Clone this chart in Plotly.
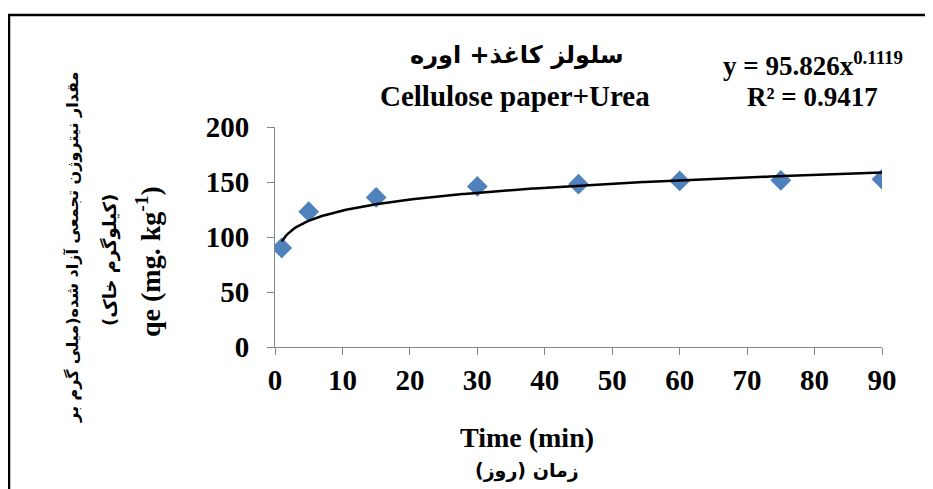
import numpy as np
import plotly.graph_objects as go

# ---- data ----
time_days = [1, 5, 15, 30, 45, 60, 75, 90]
qe_values = [90, 123, 136, 146, 148, 151, 151.5, 152.5]
fit_a = 95.826
fit_b = 0.1119
fit_r2 = 0.9417
x_ticks = [0, 10, 20, 30, 40, 50, 60, 70, 80, 90]
y_ticks = [0, 50, 100, 150, 200]

# ---- layout helpers (reference pixel -> paper) ----
OFF = 8  # page body margin
FW, FH = 933 - OFF, 489 - OFF
L, R, T, B = 275 - OFF, 51, 127 - OFF, 142
W = FW - L - R
H = FH - T - B


def px(x):
    return (x - OFF - L) / W


def py(y):
    return (FH - B - (y - OFF)) / H


fit_x = np.linspace(min(time_days), max(time_days), 300)
fit_y = fit_a * fit_x ** fit_b

SERIF = "Liberation Serif, DejaVu Sans"
AR = "DejaVu Sans"

fig = go.Figure()
fig.add_trace(go.Scatter(
    x=time_days, y=qe_values, mode="markers",
    marker=dict(symbol="diamond", size=16, color="#4F81BD"),
    showlegend=False, hoverinfo="x+y"))
fig.add_trace(go.Scatter(
    x=fit_x, y=fit_y, mode="lines",
    line=dict(color="black", width=2.5),
    showlegend=False, hoverinfo="skip"))

axis_common = dict(
    showgrid=False, zeroline=False, showline=True, linecolor="#868686",
    linewidth=1, ticks="outside", ticklen=7, tickcolor="#868686",
    tickfont=dict(family=SERIF, size=29, color="black", weight="bold"),
)
fig.update_xaxes(range=[0, 90], tickvals=x_ticks, **axis_common)
fig.update_yaxes(range=[0, 200], tickvals=y_ticks, ticklabelstandoff=12, **axis_common)

ann = []


def add(text, x, y, size, family=SERIF, angle=0):
    ann.append(dict(text=text, x=px(x), y=py(y), xref="paper", yref="paper",
                    showarrow=False, xanchor="center", yanchor="middle",
                    textangle=angle,
                    font=dict(family=family, size=size, color="black", weight="bold")))


add("سلولز کاغذ+ اوره", 517, 55, 24, family=AR)
add("Cellulose paper+Urea", 515, 96, 29)
add("y = 95.826x<sup>0.1119</sup>", 813, 64, 27)
add("R² = " + str(fit_r2), 812, 97, 27)
add("مقدار نیتروژن تجمعی آزاد شده(میلی گرم بر", 72, 248, 16, family=AR, angle=-90)
add("(کیلوگرم خاک)", 110, 260, 18, family=AR, angle=-90)
add("qe (mg. kg<sup>-1</sup>)", 148, 262, 28, angle=-90)
add("Time (min)", 527, 437, 28)
add("زمان (روز)", 527, 470, 19, family=AR)

shapes = [
    dict(type="line", xref="paper", yref="paper", x0=px(8), x1=px(940),
         y0=py(15), y1=py(15), line=dict(color="black", width=2.5)),
    dict(type="line", xref="paper", yref="paper", x0=px(9), x1=px(9),
         y0=py(15), y1=py(497), line=dict(color="black", width=2.5)),
]

fig.update_layout(
    width=FW, height=FH, margin=dict(l=L, r=R, t=T, b=B, autoexpand=False),
    paper_bgcolor="white", plot_bgcolor="white",
    annotations=ann, shapes=shapes,
)

fig.write_html("out.html")
